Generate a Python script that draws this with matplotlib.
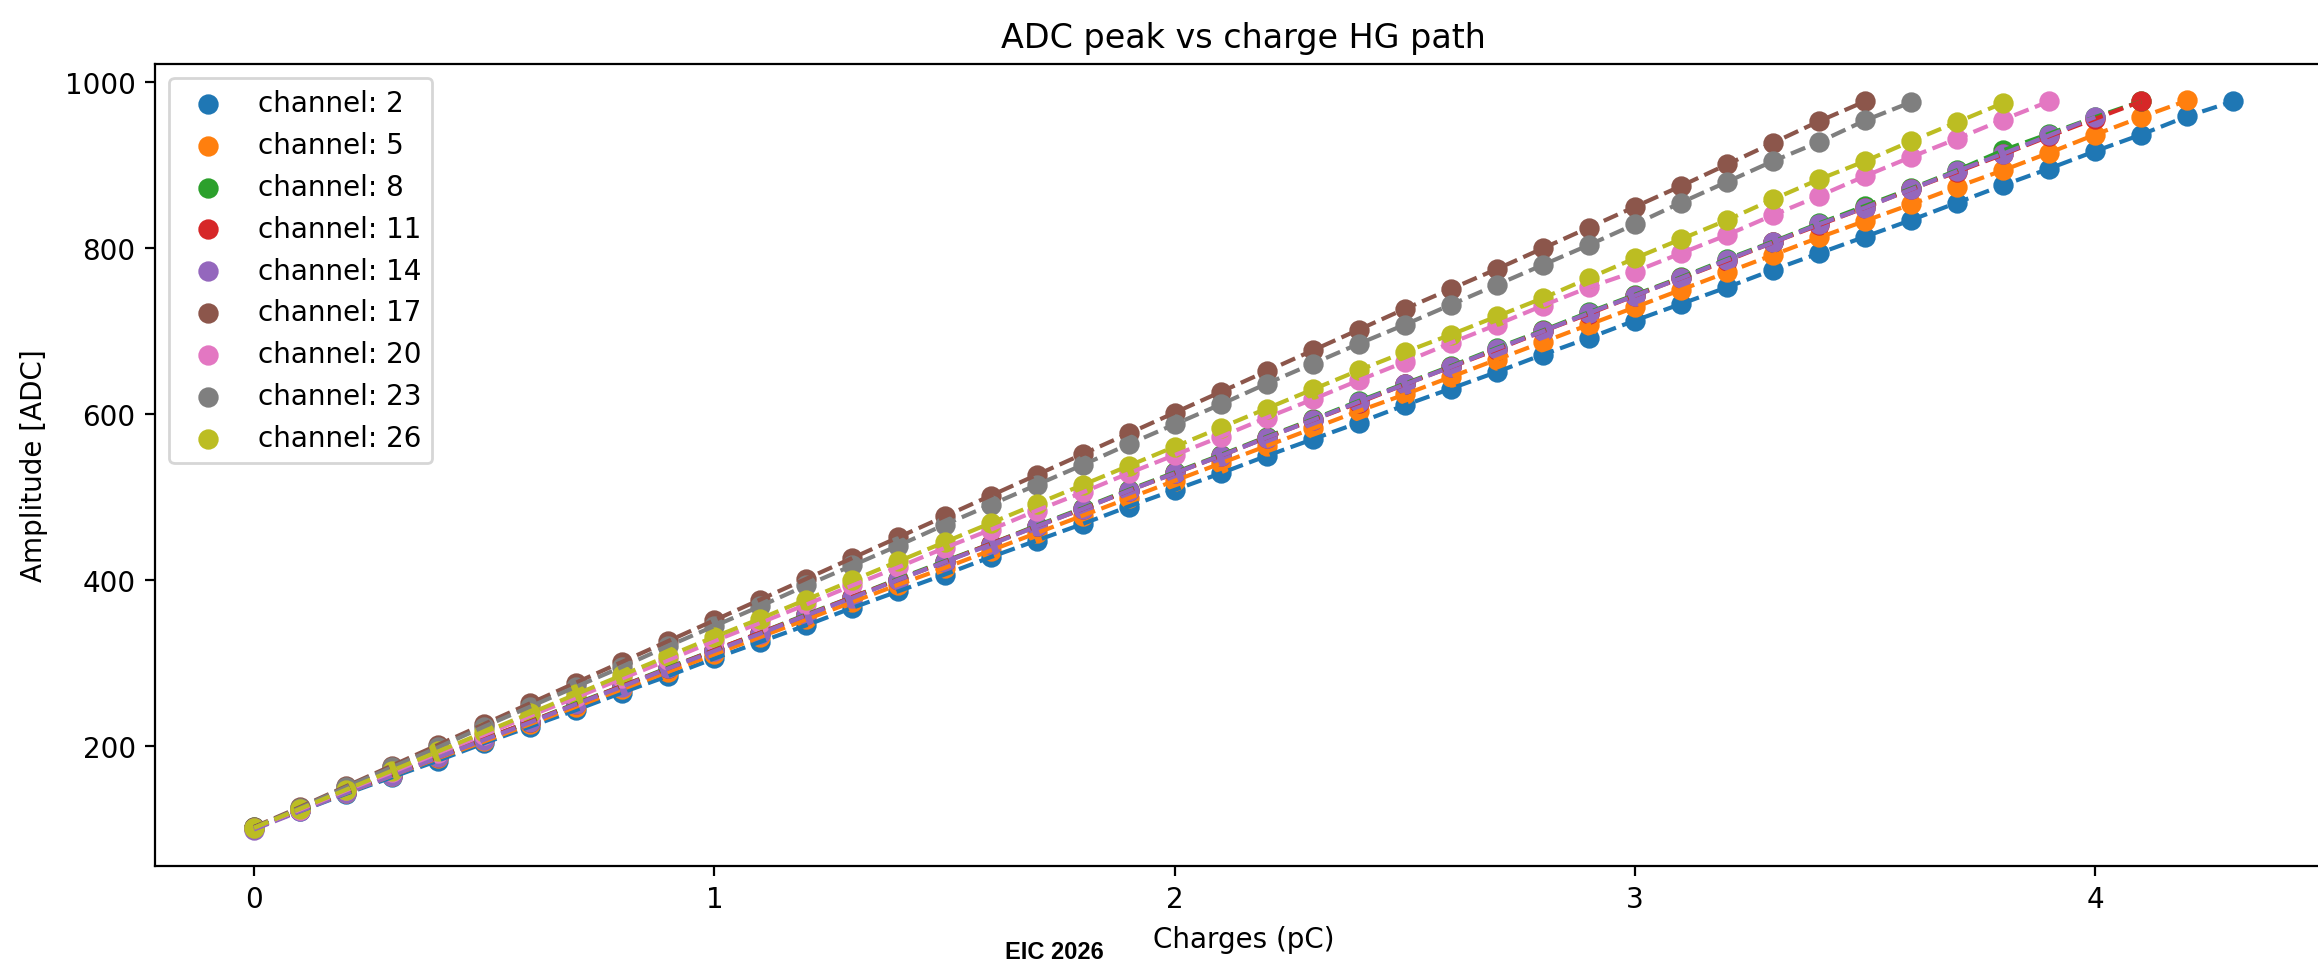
import matplotlib
matplotlib.use('Agg')
import matplotlib.pyplot as plt

# charge steps (pC) shared by every channel
charges = [0.0, 0.1, 0.2, 0.3, 0.4, 0.5, 0.6, 0.7, 0.8, 0.9,
           1.0, 1.1, 1.2, 1.3, 1.4, 1.5, 1.6, 1.7, 1.8, 1.9,
           2.0, 2.1, 2.2, 2.3, 2.4, 2.5, 2.6, 2.7, 2.8, 2.9,
           3.0, 3.1, 3.2, 3.3, 3.4, 3.5, 3.6, 3.7, 3.8, 3.9,
           4.0, 4.1, 4.2, 4.3]

channels = [2, 5, 8, 11, 14, 17, 20, 23, 26]

# ADC peak amplitude per channel
amp_ch2 = [102, 122, 143, 163, 183, 204, 224, 244, 265, 285,
           306, 326, 346, 367, 387, 407, 428, 448, 468, 489,
           509, 529, 550, 570, 590, 611, 631, 651, 672, 692,
           713, 733, 753, 774, 794, 814, 834, 855, 876, 896,
           917, 937, 959, 977]
amp_ch5 = [102, 123, 144, 165, 186, 206, 227, 248, 269, 290,
           311, 332, 353, 374, 395, 415, 436, 457, 478, 499,
           520, 541, 562, 583, 604, 624, 645, 666, 687, 708,
           729, 750, 771, 792, 813, 833, 853, 874, 894, 915,
           937, 958, 978]
amp_ch8 = [103, 123, 145, 166, 188, 209, 230, 252, 273, 295,
           316, 337, 359, 380, 402, 423, 444, 466, 487, 509,
           530, 551, 573, 594, 616, 637, 658, 680, 701, 723,
           744, 765, 787, 808, 830, 851, 872, 894, 918, 938,
           958, 977]
amp_ch11 = [102, 123, 145, 166, 187, 209, 230, 251, 273, 294,
            316, 337, 358, 380, 401, 422, 444, 465, 486, 508,
            529, 550, 572, 593, 614, 636, 657, 678, 700, 721,
            743, 764, 785, 807, 828, 849, 871, 892, 913, 935,
            956, 977]
amp_ch14 = [100, 122, 144, 165, 187, 208, 229, 251, 272, 294,
            315, 336, 358, 379, 401, 422, 443, 465, 486, 508,
            529, 550, 572, 593, 615, 636, 657, 679, 700, 722,
            743, 764, 786, 807, 829, 849, 871, 893, 914, 936,
            958]
amp_ch17 = [103, 127, 152, 177, 202, 227, 252, 277, 302, 327,
            352, 377, 402, 427, 452, 477, 502, 527, 552, 577,
            602, 627, 652, 677, 702, 727, 751, 775, 800, 825,
            850, 875, 901, 927, 953, 977]
amp_ch20 = [102, 124, 147, 169, 192, 214, 237, 259, 282, 304,
            327, 349, 371, 394, 416, 439, 461, 484, 506, 529,
            551, 573, 596, 618, 641, 663, 686, 708, 731, 753,
            772, 794, 816, 840, 863, 887, 910, 932, 955, 977]
amp_ch23 = [102, 126, 151, 175, 199, 224, 248, 272, 296, 321,
            345, 369, 394, 418, 442, 467, 491, 515, 539, 564,
            588, 612, 637, 661, 685, 708, 732, 756, 780, 804,
            829, 855, 880, 905, 928, 954, 976]
amp_ch26 = [102, 125, 148, 171, 194, 217, 240, 263, 286, 309,
            332, 354, 377, 400, 423, 446, 469, 492, 515, 538,
            561, 584, 607, 630, 653, 675, 696, 718, 740, 764,
            788, 811, 834, 859, 883, 905, 929, 952, 975]

amplitudes = [amp_ch2, amp_ch5, amp_ch8, amp_ch11, amp_ch14,
              amp_ch17, amp_ch20, amp_ch23, amp_ch26]

fig = plt.figure(figsize=(11.59, 4.81), dpi=200)
# right spine sits just past the image edge, as in the original crop
ax = fig.add_axes([0.0669, 0.0988, 0.9393, 0.8336])

for i, (ch, amp) in enumerate(zip(channels, amplitudes)):
    col = 'C%d' % i
    x = charges[:len(amp)]
    ax.scatter(x, amp, color=col, s=40, label='channel: %d' % ch)
    ax.plot(x, amp, linestyle='--', color=col, linewidth=1.5)

ax.set_title('ADC peak vs charge HG path', fontsize=12)
ax.set_xlabel('Charges (pC)')
ax.set_ylabel('Amplitude [ADC]', labelpad=6)
ax.legend(loc='upper left')

fig.text(1054 / 2318, 3 / 962, 'EIC 2026', ha='center', va='baseline',
         fontsize=8.5, fontweight='bold', family='Liberation Sans')

fig.savefig('out.png', dpi=200)
